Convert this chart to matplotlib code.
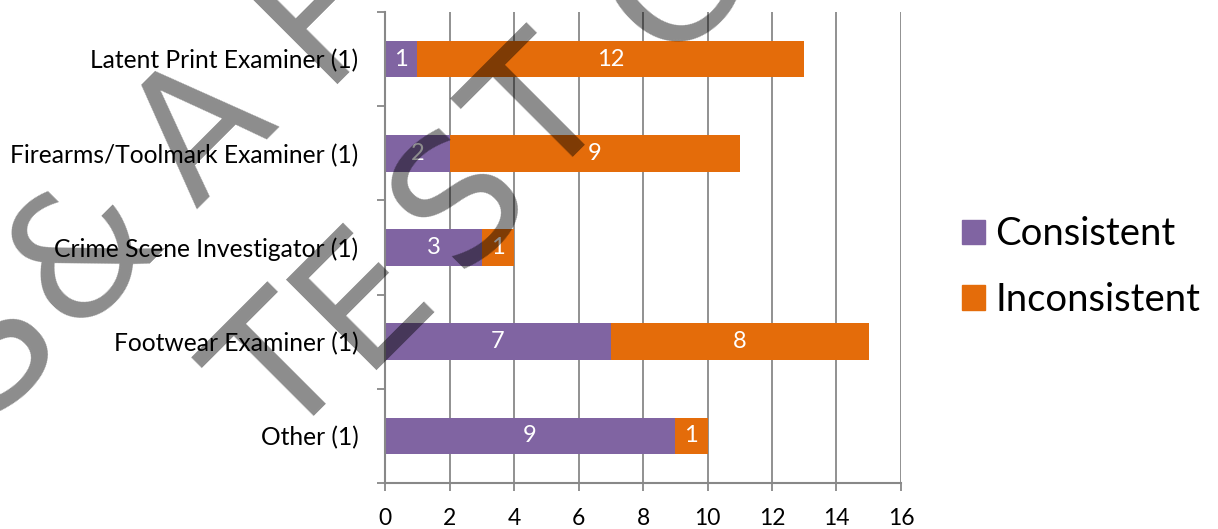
import matplotlib
matplotlib.use("Agg")
import matplotlib.pyplot as plt
from matplotlib.patches import Patch
import numpy as np

plt.rcParams['font.family'] = ['Lato', 'DejaVu Sans']

categories = ["Latent Print Examiner (1)", "Firearms/Toolmark Examiner (1)",
              "Crime Scene Investigator (1)", "Footwear Examiner (1)", "Other (1)"]
consistent = [1, 2, 3, 7, 9]
inconsistent = [12, 9, 1, 8, 1]
series_names = ["Consistent", "Inconsistent"]

PURPLE = "#8064A2"
ORANGE = "#E46C0A"
GRID = "#888888"

W, H = 1218, 529
fig = plt.figure(figsize=(W / 100, H / 100), dpi=100)
ax = fig.add_axes([385 / W, 1 - 483 / H, (901 - 385) / W, (483 - 12) / H])

y = np.arange(len(categories))
ax.barh(y, consistent, height=0.39, color=PURPLE, zorder=2)
ax.barh(y, inconsistent, left=consistent, height=0.39, color=ORANGE, zorder=2)

for i in range(len(categories)):
    ax.text(consistent[i] / 2, y[i], str(consistent[i]), color="white",
            ha="center", va="center", fontsize=17, zorder=3)
    ax.text(consistent[i] + inconsistent[i] / 2, y[i], str(inconsistent[i]),
            color="white", ha="center", va="center", fontsize=17, zorder=3)

ax.set_xlim(0, 16)
ax.set_ylim(len(categories) - 0.5, -0.5)
ax.set_xticks(range(0, 17, 2))
ax.xaxis.grid(True, color=GRID, linewidth=1.3, zorder=0)
ax.set_axisbelow(True)

# category boundaries get the tick marks, names sit between them
ax.set_yticks(np.arange(-0.5, len(categories), 1))
ax.set_yticklabels([])
ax.set_yticks(y, minor=True)
ax.set_yticklabels(categories, minor=True, fontsize=17.7)
ax.tick_params(axis="y", which="minor", length=0, pad=19)
ax.tick_params(axis="y", which="major", length=6, width=1.3, color=GRID)
ax.tick_params(axis="x", length=6, width=1.3, color=GRID, labelsize=16.5, pad=12)

for s in ["top", "right"]:
    ax.spines[s].set_visible(False)
for s in ["left", "bottom"]:
    ax.spines[s].set_color(GRID)
    ax.spines[s].set_linewidth(1.5)

handles = [Patch(color=PURPLE), Patch(color=ORANGE)]
fig.legend(handles, series_names, loc="center left",
           bbox_to_anchor=(962 / W, 1 - 267 / H), frameon=False,
           fontsize=27.5, handlelength=0.6, handleheight=0.6,
           handletextpad=0.28, labelspacing=0.78, borderpad=0, borderaxespad=0)


# watermark over the chart, letter by letter along a 45 degree baseline
def watermark(letters, origin, offsets):
    for ch, s in zip(letters, offsets):
        px = origin[0] + s * 0.7071
        py = origin[1] - s * 0.7071
        fig.text(px / W, 1 - py / H, ch, rotation=45, rotation_mode="anchor",
                 ha="center", va="baseline", fontsize=126, family="DejaVu Sans",
                 color="black", alpha=0.45, zorder=10)


watermark("S&AF", (238, 167), [-300, -168, 0, 168])
watermark("TESTC", (320, 410), [0, 112, 249, 366, 550])

fig.savefig("out.png", dpi=100)
